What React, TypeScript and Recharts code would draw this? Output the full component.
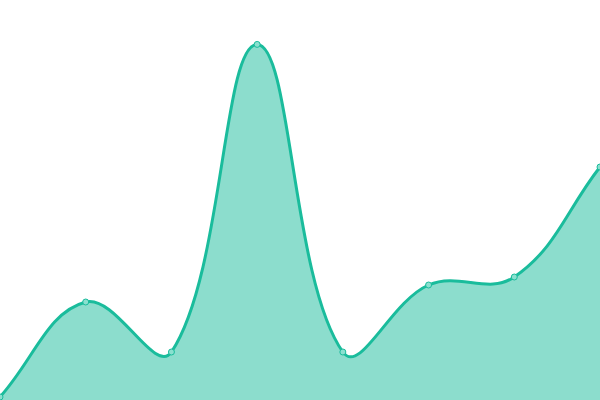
import React from "react";
import { AreaChart, Area, XAxis, YAxis } from "recharts";

const categories = ["A", "B", "C", "D", "E", "F", "G", "H"];
const values = [0.75, 24.5, 12, 88.9, 12, 28.75, 30.75, 58.25];

const data = categories.map((name, i) => ({ name, value: values[i] }));

const TENSION = 0.4;

function splineCurve(context: any) {
  let pts: number[][] = [];
  let line = NaN;
  return {
    areaStart() {
      line = 0;
    },
    areaEnd() {
      line = NaN;
    },
    lineStart() {
      pts = [];
    },
    lineEnd() {
      const n = pts.length;
      if (n > 0) {
        const cps = pts.map((cur, i) => {
          const prev = i > 0 ? pts[i - 1] : cur;
          const next = i < n - 1 ? pts[i + 1] : cur;
          const d01 = Math.hypot(cur[0] - prev[0], cur[1] - prev[1]);
          const d12 = Math.hypot(next[0] - cur[0], next[1] - cur[1]);
          let s01 = d01 / (d01 + d12);
          let s12 = d12 / (d01 + d12);
          if (isNaN(s01)) s01 = 0;
          if (isNaN(s12)) s12 = 0;
          const fa = TENSION * s01;
          const fb = TENSION * s12;
          return {
            p: [cur[0] - fa * (next[0] - prev[0]), cur[1] - fa * (next[1] - prev[1])],
            n: [cur[0] + fb * (next[0] - prev[0]), cur[1] + fb * (next[1] - prev[1])],
          };
        });
        if (line) context.lineTo(pts[0][0], pts[0][1]);
        else context.moveTo(pts[0][0], pts[0][1]);
        for (let i = 1; i < n; i++) {
          const a = cps[i - 1].n;
          const b = cps[i].p;
          context.bezierCurveTo(a[0], a[1], b[0], b[1], pts[i][0], pts[i][1]);
        }
      }
      if (line || (line !== 0 && n === 1)) context.closePath();
      line = 1 - line;
    },
    point(x: number, y: number) {
      pts.push([+x, +y]);
    },
  };
}

export default function App() {
  return (
    <div style={{ position: "absolute", left: 0, top: 0, width: 600, height: 400 }}>
      <AreaChart width={600} height={400} data={data} margin={{ top: 0, right: 0, bottom: 0, left: 0 }}>
        <XAxis dataKey="name" hide />
        <YAxis hide domain={[0, 100]} />
        <Area
          type={splineCurve as any}
          dataKey="value"
          stroke="#1abc9c"
          strokeWidth={3}
          fill="#1abc9c"
          fillOpacity={0.5}
          dot={{ r: 3, fill: "#8ae0cf", stroke: "#1abc9c", strokeWidth: 1, fillOpacity: 1 }}
          activeDot={false}
          isAnimationActive={false}
        />
      </AreaChart>
    </div>
  );
}
